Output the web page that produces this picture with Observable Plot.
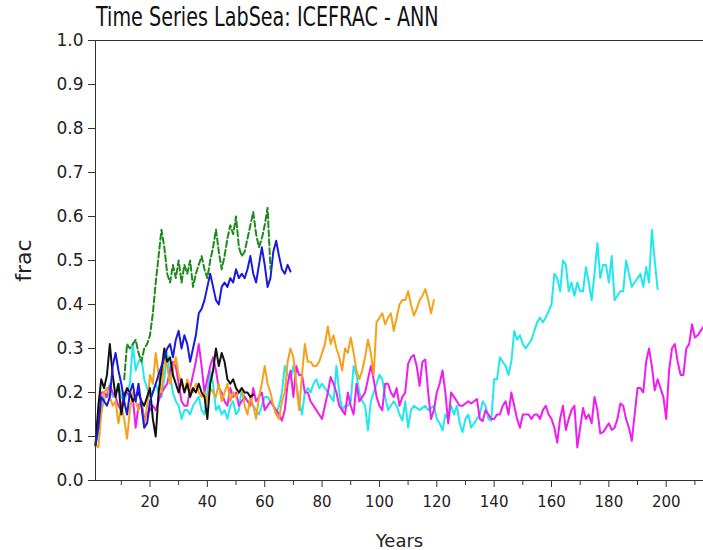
<!DOCTYPE html>
<html>
<head>
<meta charset="utf-8">
<script src="https://cdn.jsdelivr.net/npm/d3@7"></script>
<script src="https://cdn.jsdelivr.net/npm/@observablehq/plot@0.6"></script>
<style>
  html, body { margin: 0; padding: 0; background: #fff; }
  #wrap { position: relative; width: 703px; height: 550px; }
  #title { position: absolute; left: 96px; top: 1px; font-family: "DejaVu Sans", sans-serif; font-size: 27px; color: #111; white-space: nowrap; transform-origin: 0 0; transform: scaleX(0.71); }
  svg [aria-label="y-axis label"] { font-size: 22px; }
  svg [aria-label="x-axis label"] { font-size: 18px; }
  svg [aria-label="x-axis tick label"] { font-size: 15px; }
</style>
</head>
<body>
<div id="wrap"><div id="title">Time Series LabSea: ICEFRAC - ANN</div></div>
<script>
const title = "Time Series LabSea: ICEFRAC - ANN";
const xLabel = "Years";
const yLabel = "frac";
const xMajorTicks = [20, 40, 60, 80, 100, 120, 140, 160, 180, 200];
const xMinorTicks = [10, 30, 50, 70, 90, 110, 130, 150, 170, 190, 210];
const yTicks = [0, 0.1, 0.2, 0.3, 0.4, 0.5, 0.6, 0.7, 0.8, 0.9, 1.0];

const cyanStart = 1;
const cyanVals = [0.08,0.11,0.16,0.18,0.2,0.22,0.19,0.2,0.22,0.19,0.18,0.2,0.22,0.31,0.25,0.27,0.28,0.23,0.21,0.19,
0.2,0.22,0.2,0.19,0.23,0.29,0.24,0.2,0.18,0.17,0.14,0.16,0.16,0.15,0.17,0.18,0.19,0.16,0.15,0.2,
0.25,0.22,0.16,0.17,0.15,0.16,0.14,0.17,0.18,0.15,0.16,0.21,0.19,0.18,0.18,0.17,0.16,0.15,0.17,0.19,
0.19,0.18,0.17,0.15,0.17,0.2,0.26,0.24,0.23,0.26,0.22,0.18,0.15,0.2,0.21,0.2,0.22,0.23,0.21,0.22,
0.21,0.2,0.19,0.18,0.26,0.2,0.16,0.17,0.17,0.18,0.26,0.24,0.2,0.18,0.17,0.114,0.18,0.2,0.22,0.24,
0.23,0.19,0.16,0.17,0.18,0.17,0.15,0.136,0.18,0.12,0.16,0.17,0.165,0.16,0.165,0.17,0.16,0.165,0.17,0.14,
0.13,0.114,0.15,0.14,0.17,0.15,0.17,0.13,0.11,0.14,0.15,0.12,0.13,0.14,0.15,0.18,0.17,0.14,0.136,0.23,
0.23,0.28,0.27,0.26,0.24,0.27,0.34,0.32,0.33,0.31,0.3,0.31,0.32,0.34,0.36,0.37,0.36,0.37,0.385,0.4,
0.47,0.46,0.43,0.5,0.49,0.43,0.45,0.42,0.45,0.43,0.43,0.485,0.45,0.41,0.47,0.54,0.46,0.49,0.49,0.45,
0.51,0.41,0.42,0.43,0.43,0.5,0.47,0.44,0.45,0.46,0.47,0.44,0.485,0.45,0.57,0.5,0.435];

const magentaStart = 1;
const magentaVals = [0.08,0.15,0.2,0.2,0.19,0.215,0.2,0.19,0.17,0.16,0.2,0.2,0.19,0.19,0.12,0.17,0.18,0.14,0.15,0.16,
0.17,0.16,0.18,0.2,0.21,0.22,0.25,0.27,0.26,0.22,0.18,0.17,0.17,0.21,0.24,0.27,0.31,0.26,0.2,0.23,
0.26,0.28,0.25,0.21,0.2,0.18,0.17,0.21,0.19,0.2,0.17,0.18,0.19,0.18,0.17,0.21,0.18,0.19,0.2,0.16,
0.17,0.18,0.17,0.16,0.15,0.136,0.16,0.22,0.25,0.19,0.26,0.24,0.24,0.2,0.2,0.18,0.17,0.16,0.15,0.14,
0.17,0.2,0.235,0.22,0.2,0.17,0.16,0.15,0.2,0.17,0.15,0.22,0.18,0.19,0.2,0.23,0.26,0.23,0.19,0.17,
0.16,0.22,0.22,0.2,0.19,0.21,0.17,0.19,0.2,0.265,0.28,0.285,0.26,0.215,0.27,0.275,0.2,0.14,0.16,0.2,
0.22,0.25,0.2,0.13,0.2,0.19,0.18,0.17,0.17,0.175,0.18,0.175,0.18,0.185,0.14,0.135,0.16,0.15,0.14,0.14,
0.15,0.15,0.17,0.18,0.15,0.2,0.17,0.14,0.12,0.15,0.15,0.15,0.14,0.15,0.15,0.14,0.16,0.17,0.15,0.14,
0.12,0.086,0.14,0.17,0.115,0.14,0.16,0.17,0.075,0.12,0.165,0.14,0.15,0.13,0.19,0.16,0.107,0.11,0.12,0.13,
0.115,0.12,0.14,0.175,0.17,0.14,0.12,0.09,0.15,0.21,0.21,0.2,0.27,0.3,0.26,0.205,0.23,0.21,0.19,0.14,
0.25,0.3,0.31,0.27,0.24,0.24,0.3,0.31,0.355,0.325,0.33,0.34,0.35];

const orangeStart = 1;
const orangeVals = [0.08,0.075,0.15,0.2,0.21,0.19,0.17,0.18,0.13,0.17,0.14,0.095,0.16,0.2,0.18,0.16,0.18,0.12,0.17,0.24,
0.22,0.29,0.24,0.2,0.28,0.26,0.22,0.25,0.28,0.24,0.22,0.2,0.23,0.21,0.2,0.22,0.2,0.19,0.2,0.18,
0.21,0.2,0.19,0.22,0.18,0.2,0.22,0.18,0.2,0.19,0.2,0.21,0.17,0.15,0.19,0.17,0.14,0.19,0.22,0.26,
0.22,0.2,0.17,0.15,0.14,0.18,0.2,0.27,0.3,0.28,0.22,0.16,0.24,0.31,0.27,0.27,0.26,0.26,0.27,0.29,
0.31,0.35,0.31,0.33,0.3,0.28,0.25,0.3,0.29,0.325,0.29,0.25,0.23,0.25,0.28,0.32,0.29,0.24,0.36,0.37,
0.38,0.355,0.37,0.38,0.34,0.37,0.4,0.41,0.41,0.43,0.4,0.375,0.39,0.41,0.42,0.435,0.41,0.38,0.41];

const blackStart = 1;
const blackVals = [0.08,0.17,0.23,0.21,0.24,0.31,0.24,0.19,0.22,0.15,0.19,0.21,0.2,0.18,0.19,0.2,0.18,0.17,0.19,0.21,
0.14,0.1,0.2,0.25,0.3,0.27,0.28,0.24,0.22,0.2,0.23,0.2,0.22,0.19,0.21,0.2,0.22,0.2,0.19,0.14,
0.22,0.25,0.3,0.26,0.29,0.27,0.23,0.22,0.23,0.21,0.2,0.21,0.2,0.2,0.19,0.195];

const blueStart = 1;
const blueVals = [0.08,0.12,0.19,0.18,0.17,0.19,0.26,0.29,0.25,0.22,0.18,0.15,0.2,0.22,0.18,0.22,0.17,0.12,0.13,0.18,
0.2,0.22,0.24,0.26,0.28,0.3,0.31,0.28,0.32,0.34,0.3,0.33,0.31,0.27,0.3,0.33,0.38,0.39,0.41,0.44,
0.47,0.44,0.41,0.4,0.44,0.45,0.44,0.46,0.45,0.48,0.46,0.47,0.46,0.48,0.51,0.47,0.45,0.49,0.53,0.49,
0.44,0.46,0.52,0.545,0.51,0.48,0.47,0.49,0.475];

const greenStart = 11;
const greenVals = [0.23,0.31,0.3,0.31,0.32,0.29,0.27,0.3,0.31,0.33,0.38,0.45,0.51,0.57,0.53,0.47,0.45,0.49,0.46,0.5,
0.45,0.49,0.47,0.5,0.44,0.47,0.49,0.51,0.48,0.46,0.5,0.53,0.57,0.52,0.48,0.51,0.55,0.58,0.56,0.6,
0.53,0.51,0.52,0.55,0.58,0.61,0.56,0.53,0.55,0.58,0.62,0.48];

const series = [
  {name: "cyan", color: "#22e8ee", start: cyanStart, vals: cyanVals, dash: null},
  {name: "magenta", color: "#f01cf0", start: magentaStart, vals: magentaVals, dash: null},
  {name: "orange", color: "#f5a21a", start: orangeStart, vals: orangeVals, dash: null},
  {name: "black", color: "#111111", start: blackStart, vals: blackVals, dash: null},
  {name: "blue", color: "#1a1ae0", start: blueStart, vals: blueVals, dash: null},
  {name: "green", color: "#1e8a1e", start: greenStart, vals: greenVals, dash: "6,3"}
];

const toRows = s => s.vals.map((v, i) => ({year: s.start + i, value: v}));

const lineMarks = series.map(s => Plot.line(toRows(s), {
  x: "year", y: "value", stroke: s.color, strokeWidth: 2,
  strokeDasharray: s.dash, strokeLinejoin: "round"
}));

const chart = Plot.plot({
  width: 703,
  height: 550,
  marginTop: 40,
  marginLeft: 95,
  marginRight: 0,
  marginBottom: 70,
  style: {fontFamily: "DejaVu Sans, sans-serif", fontSize: "17px", color: "#222", background: "#fff"},
  x: {domain: [1, 213], label: null},
  y: {domain: [0, 1], label: null},
  marks: [
    ...lineMarks,
    Plot.ruleY([1], {stroke: "#333", strokeWidth: 1}),
    Plot.axisY(yTicks, {tickSize: 7, tickPadding: 5, tickFormat: d => d.toFixed(1), stroke: "#333",
      label: yLabel, labelAnchor: "center", labelArrow: "none", labelOffset: 80}),
    Plot.axisX(xMajorTicks, {tickSize: 7, tickPadding: 9, tickFormat: d => String(d), stroke: "#333",
      label: xLabel, labelAnchor: "center", labelArrow: "none", labelOffset: 66}),
    Plot.axisX(xMinorTicks, {tickSize: 5, tickFormat: () => "", stroke: "#333", label: null}),
    Plot.ruleX([1], {stroke: "#333", strokeWidth: 1}),
    Plot.ruleY([0], {stroke: "#333", strokeWidth: 1})
  ]
});
document.getElementById("wrap").appendChild(chart);
document.getElementById("title").textContent = title;
</script>
</body>
</html>
